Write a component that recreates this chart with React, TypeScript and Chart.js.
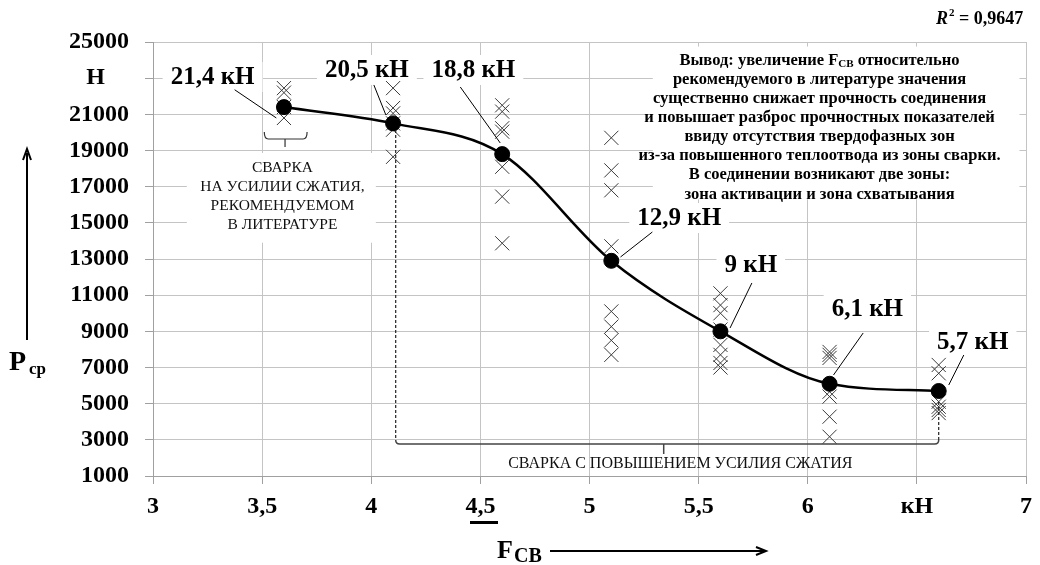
import React, { useEffect, useRef } from "react";
import { Chart, registerables } from "chart.js";
Chart.register(...registerables);

// ---- data ----
const xValues = [3.6, 4.1, 4.6, 5.1, 5.6, 6.1, 6.6];
const meanValues = [21400, 20500, 18800, 12900, 9000, 6100, 5700];
const meanLabels = ["21,4 кН", "20,5 кН", "18,8 кН", "12,9 кН", "9 кН", "6,1 кН", "5,7 кН"];
const samples36 = [22450, 22200, 21400, 20800];
const samples41 = [22450, 21350, 21050, 20500, 20150, 18650];
const samples46 = [21500, 21150, 20230, 20040, 18100, 16450, 13870];
const samples51 = [19700, 17900, 16800, 13700, 10100, 9260, 8500, 7700];
const samples56 = [11100, 10450, 10000, 9100, 8250, 7700, 7250, 7000];
const samples61 = [7860, 7700, 7530, 5660, 5390, 4280, 3170];
const samples66 = [7140, 6680, 5110, 4830, 4650, 4480];
const sampleGroups = [samples36, samples41, samples46, samples51, samples56, samples61, samples66];
const xTickLabels = ["3", "3,5", "4", "4,5", "5", "5,5", "6", "кН", "7"];
const yTickLabels = ["1000", "3000", "5000", "7000", "9000", "11000", "13000", "15000", "17000", "19000", "21000", "Н    ", "25000"];
const rSquaredText = "0,9647";
const conclusionLines = [
  "рекомендуемого в литературе значения",
  "существенно снижает прочность соединения",
  "и повышает разброс прочностных показателей",
  "ввиду отсутствия твердофазных зон",
  "из-за повышенного теплоотвода из зоны сварки.",
  "В соединении возникают две зоны:",
  "зона активации и зона схватывания",
];
const leftNoteLines = ["СВАРКА", "НА УСИЛИИ СЖАТИЯ,", "РЕКОМЕНДУЕМОМ", "В ЛИТЕРАТУРЕ"];
const bottomNote = "СВАРКА С ПОВЫШЕНИЕМ УСИЛИЯ СЖАТИЯ";

// ---- annotation anchors (data coordinates) ----
const labelAnchors = [
  [3.273, 23065], [3.98, 23452], [4.468, 23452], [5.411, 15268], [5.739, 12668], [6.273, 10235], [6.756, 8410],
];
const leaderLines = [
  [3.374, 22360, 3.565, 20800],
  [4.012, 22623, 4.067, 20964],
  [4.408, 22512, 4.591, 19415],
  [5.288, 14493, 5.142, 13111],
  [5.744, 11673, 5.644, 9185],
  [6.254, 8908, 6.118, 6585],
  [6.715, 7691, 6.646, 6032],
];

const SERIF = "'Liberation Serif', 'Times New Roman', serif";

const annotationPlugin = {
  id: "annotations",
  beforeDatasetsDraw(chart: any) {
    const ctx = chart.ctx;
    const sx = chart.scales.x, sy = chart.scales.y;
    const X = (v: number) => sx.getPixelForValue(v);
    const Y = (v: number) => sy.getPixelForValue(v);
    ctx.save();
    ctx.fillStyle = "#fff";
    ctx.fillRect(X(5.29), Y(24750), X(6.97) - X(5.29), Y(16300) - Y(24750));
    ctx.fillRect(X(3.155), Y(18862), X(4.021) - X(3.155), Y(13900) - Y(18862));
    ctx.font = `bold 25px ${SERIF}`;
    labelAnchors.forEach(([ax, ay], i) => {
      const w = ctx.measureText(meanLabels[i]).width;
      ctx.fillRect(X(ax) - w / 2 - 8, Y(ay) - 15, w + 16, 30);
    });
    ctx.restore();
  },
  afterDatasetsDraw(chart: any) {
    const ctx = chart.ctx;
    const sx = chart.scales.x, sy = chart.scales.y;
    const X = (v: number) => sx.getPixelForValue(v);
    const Y = (v: number) => sy.getPixelForValue(v);
    ctx.save();
    ctx.strokeStyle = "#000";
    ctx.lineWidth = 1;
    leaderLines.forEach(([x1, y1, x2, y2]) => {
      ctx.beginPath();
      ctx.moveTo(X(x1), Y(y1));
      ctx.lineTo(X(x2), Y(y2));
      ctx.stroke();
    });
    ctx.fillStyle = "#000";
    ctx.font = `bold 25px ${SERIF}`;
    ctx.textAlign = "center";
    ctx.textBaseline = "middle";
    labelAnchors.forEach(([ax, ay], i) => {
      ctx.fillText(meanLabels[i], X(ax), Y(ay) + 1);
    });

    // small brace
    ctx.strokeStyle = "#333";
    ctx.lineWidth = 1.2;
    const bx1 = X(3.51), bx2 = X(3.706), bxc = X(3.605);
    const byT = Y(20023), byM = Y(19636), byS = Y(19194);
    ctx.beginPath();
    ctx.moveTo(bx1, byT);
    ctx.quadraticCurveTo(bx1, byM, bx1 + 4, byM);
    ctx.lineTo(bx2 - 4, byM);
    ctx.quadraticCurveTo(bx2, byM, bx2, byT);
    ctx.moveTo(bxc, byM);
    ctx.lineTo(bxc, byS);
    ctx.stroke();

    ctx.font = `15.5px ${SERIF}`;
    ctx.fillStyle = "#111";
    const lnY = [18033, 16982, 15931, 14881];
    leftNoteLines.forEach((t, i) => ctx.fillText(t, X(3.593), Y(lnY[i])));

    // big bracket
    const gx1 = X(4.112), gx2 = X(6.6), gxc = X(5.34);
    const gy = Y(2770), gyS = Y(2217);
    ctx.setLineDash([3, 2]);
    ctx.lineWidth = 1.2;
    ctx.strokeStyle = "#222";
    ctx.beginPath();
    ctx.moveTo(gx1, Y(20134));
    ctx.lineTo(gx1, gy - 4);
    ctx.moveTo(gx2, Y(5092));
    ctx.lineTo(gx2, gy - 4);
    ctx.stroke();
    ctx.setLineDash([]);
    ctx.lineWidth = 1.5;
    ctx.strokeStyle = "#444";
    ctx.beginPath();
    ctx.moveTo(gx1, gy - 4);
    ctx.quadraticCurveTo(gx1, gy, gx1 + 4, gy);
    ctx.lineTo(gx2 - 4, gy);
    ctx.quadraticCurveTo(gx2, gy, gx2, gy - 4);
    ctx.moveTo(gxc, gy);
    ctx.lineTo(gxc, gyS);
    ctx.stroke();
    ctx.font = `16px ${SERIF}`;
    ctx.fillStyle = "#111";
    ctx.fillText(bottomNote, X(5.416), Y(1664));

    // conclusion text
    const cx = X(6.054);
    const lineH = 19.1;
    const y0 = Y(24000) + 0.5;
    ctx.fillStyle = "#000";
    const f = `bold 16.5px ${SERIF}`;
    const fs = `bold 11px ${SERIF}`;
    ctx.font = f;
    const p1 = "Вывод: увеличение F";
    const p3 = " относительно";
    const w1 = ctx.measureText(p1).width;
    const w3 = ctx.measureText(p3).width;
    ctx.font = fs;
    const w2 = ctx.measureText("СВ").width;
    const total = w1 + w2 + w3;
    let lx = cx - total / 2;
    ctx.textAlign = "left";
    ctx.font = f;
    ctx.fillText(p1, lx, y0);
    lx += w1;
    ctx.font = fs;
    ctx.fillText("СВ", lx, y0 + 4);
    lx += w2;
    ctx.font = f;
    ctx.fillText(p3, lx, y0);
    ctx.textAlign = "center";
    conclusionLines.forEach((t, i) => ctx.fillText(t, cx, y0 + lineH * (i + 1)));
    ctx.restore();
  },
  afterDraw(chart: any) {
    const ctx = chart.ctx;
    const area = chart.chartArea;
    ctx.save();
    ctx.fillStyle = "#000";
    ctx.strokeStyle = "#000";
    ctx.textBaseline = "alphabetic";
    ctx.textAlign = "left";
    const rx = area.right - 90, ry = area.top - 18;
    ctx.font = `bold italic 18px ${SERIF}`;
    ctx.fillText("R", rx, ry);
    let w = ctx.measureText("R").width;
    ctx.font = `bold 11px ${SERIF}`;
    ctx.fillText("2", rx + w + 1, ry - 8);
    w += ctx.measureText("2").width + 1;
    ctx.font = `bold 18px ${SERIF}`;
    ctx.fillText(" = " + rSquaredText, rx + w, ry);

    // Y axis title with arrow
    const ax = 27;
    ctx.lineWidth = 2;
    ctx.beginPath();
    ctx.moveTo(ax, 340);
    ctx.lineTo(ax, 153);
    ctx.stroke();
    ctx.beginPath();
    ctx.moveTo(ax - 4, 160);
    ctx.lineTo(ax, 149);
    ctx.lineTo(ax + 4, 160);
    ctx.stroke();
    ctx.font = `bold 28px ${SERIF}`;
    ctx.fillText("P", 9, 370);
    ctx.font = `bold 17px ${SERIF}`;
    ctx.fillText("ср", 29, 374);

    // X axis title with arrow
    ctx.fillRect(470, 521, 28, 3);
    ctx.font = `bold 26px ${SERIF}`;
    ctx.fillText("F", 497, 558);
    ctx.font = `bold 20px ${SERIF}`;
    ctx.fillText("СВ", 514, 562);
    ctx.lineWidth = 2;
    ctx.beginPath();
    ctx.moveTo(550, 551);
    ctx.lineTo(764, 551);
    ctx.stroke();
    ctx.beginPath();
    ctx.moveTo(756, 547);
    ctx.lineTo(766, 551);
    ctx.lineTo(756, 555);
    ctx.stroke();
    ctx.restore();
  },
};

export default function App() {
  const ref = useRef<HTMLCanvasElement>(null);
  useEffect(() => {
    const crosses: { x: number; y: number }[] = [];
    sampleGroups.forEach((g, i) => g.forEach((v) => crosses.push({ x: xValues[i], y: v })));
    const means = xValues.map((x, i) => ({ x, y: meanValues[i] }));
    const tickFont = { family: SERIF, size: 24, weight: "bold" as const };
    const chart = new Chart(ref.current!, {
      type: "scatter",
      data: {
        datasets: [
          {
            type: "line",
            data: means,
            borderColor: "#000",
            borderWidth: 2.5,
            pointRadius: 0,
            cubicInterpolationMode: "monotone",
            fill: false,
            order: 2,
          } as any,
          {
            type: "scatter",
            data: crosses,
            pointStyle: "crossRot",
            pointRadius: 10,
            borderColor: "#3a3a3a",
            borderWidth: 1,
            order: 1,
          } as any,
          {
            type: "scatter",
            data: means,
            pointRadius: 7.5,
            backgroundColor: "#000",
            borderColor: "#000",
            order: 0,
          } as any,
        ],
      },
      options: {
        animation: false,
        responsive: true,
        maintainAspectRatio: false,
        layout: { padding: { top: 42, right: 9, left: 0, bottom: 0 } },
        plugins: { legend: { display: false }, tooltip: { enabled: false } },
        scales: {
          x: {
            type: "linear",
            min: 3,
            max: 7,
            ticks: {
              stepSize: 0.5,
              callback: (_v: any, i: number) => xTickLabels[i],
              font: tickFont,
              color: "#000",
              padding: 8,
              maxRotation: 0,
            },
            grid: { color: "#c4c4c4", tickLength: 8, tickColor: "#a0a0a0", lineWidth: 1 },
            border: { color: "#a0a0a0" },
            afterFit: (s: any) => {
              s.height = 89;
            },
          },
          y: {
            type: "linear",
            min: 1000,
            max: 25000,
            ticks: {
              stepSize: 2000,
              callback: (_v: any, i: number) => yTickLabels[i],
              font: tickFont,
              color: "#000",
              padding: 16,
            },
            grid: { color: "#c4c4c4", tickLength: 8, tickColor: "#a0a0a0", lineWidth: 1 },
            border: { color: "#a0a0a0" },
            afterFit: (s: any) => {
              s.width = 153;
            },
          },
        },
      } as any,
      plugins: [annotationPlugin],
    });
    return () => chart.destroy();
  }, []);
  return (
    <div style={{ position: "absolute", left: 0, top: 0, width: 1040, height: 565, background: "#fff" }}>
      <canvas ref={ref} />
    </div>
  );
}
